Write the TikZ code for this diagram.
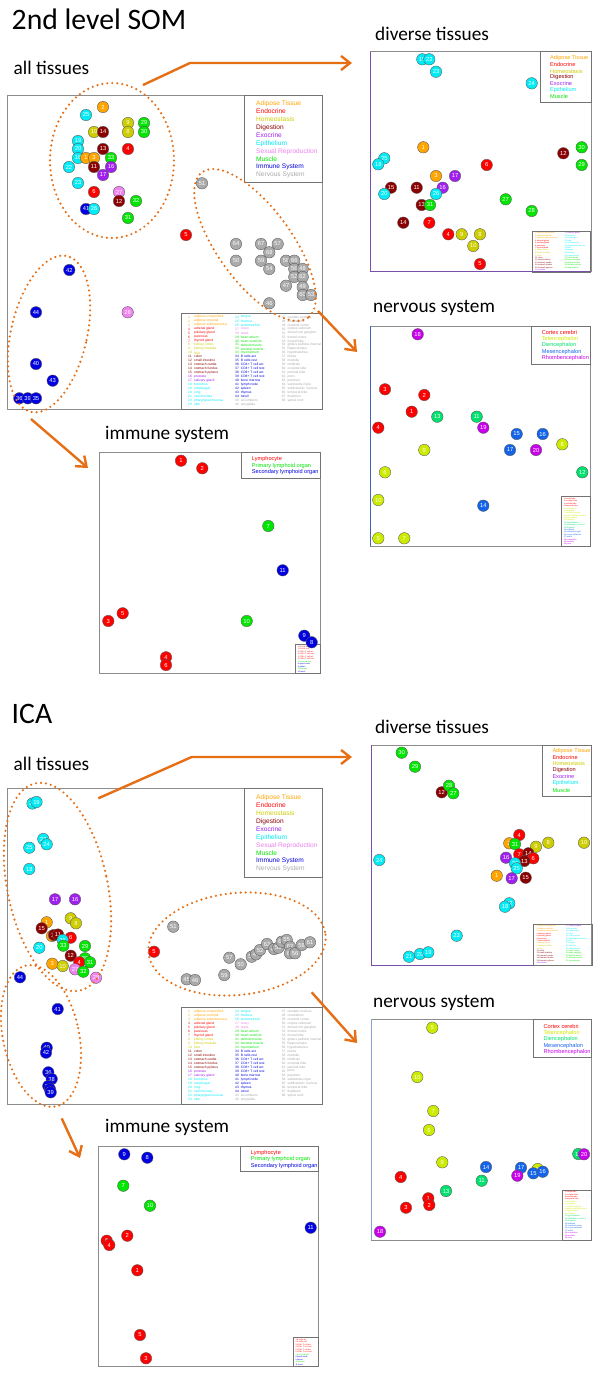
\documentclass[tikz,border=0pt]{standalone}
\usepackage{fontspec}
\usetikzlibrary{arrows.meta}
\newfontfamily\calf{Carlito}
\newfontfamily\arf{Liberation Sans}
\definecolor{cAd}{RGB}{255,165,0}
\definecolor{cEn}{RGB}{255,0,0}
\definecolor{cHo}{RGB}{205,205,0}
\definecolor{cDi}{RGB}{139,0,0}
\definecolor{cEx}{RGB}{160,32,240}
\definecolor{cEp}{RGB}{0,235,245}
\definecolor{cSe}{RGB}{238,130,238}
\definecolor{cMu}{RGB}{0,230,0}
\definecolor{cIm}{RGB}{0,0,225}
\definecolor{cNe}{RGB}{170,170,170}
\definecolor{nTe}{RGB}{205,235,0}
\definecolor{nDi}{RGB}{0,225,110}
\definecolor{nMe}{RGB}{20,100,235}
\definecolor{nRh}{RGB}{200,0,235}
\definecolor{cOr}{RGB}{230,110,20}
\definecolor{edP}{RGB}{120,80,170}
\definecolor{edB}{RGB}{60,100,190}
\tikzset{
 pt/.style={circle,draw=black!65,line width=0.35pt,minimum size=11.5pt,inner sep=0pt,text=white,font=\arf\fontsize{5.8}{6}\selectfont},
 frame/.style={draw=black!45,line width=0.9pt},
 lgbox/.style={draw=black!55,line width=0.6pt},
 lg/.style={anchor=west,inner sep=0pt,font=\arf\fontsize{6.6}{7}\selectfont},
 lgs/.style={anchor=west,inner sep=0pt,font=\arf\fontsize{5.6}{6}\selectfont},
 tinyl/.style={anchor=west,inner sep=0pt,font=\arf\fontsize{3.3}{3.5}\selectfont},
 micro/.style={anchor=west,inner sep=0pt,font=\arf\fontsize{2}{2}\selectfont},
 ttl/.style={anchor=base west,inner sep=0pt,font=\calf\fontsize{29.7}{30}\selectfont},
 sub/.style={anchor=base west,inner sep=0pt,font=\calf\fontsize{19.3}{20}\selectfont},
 oarrow/.style={draw=cOr,line width=2.4pt,-{Straight Barb[length=9pt,width=14pt]}},
 oell/.style={draw=cOr,line width=2.4pt,line cap=round,dash pattern=on 0pt off 5pt},
}
% top-right legend, 10 entries
\newcommand\lgten[4]{%
 \foreach \t/\c [count=\k from 0] in {Adipose Tissue/cAd,Endocrine/cEn,Homeostasis/cHo,Digestion/cDi,Exocrine/cEx,Epithelium/cEp,Sexual Reproduction/cSe,Muscle/cMu,Immune System/cIm,Nervous System/cNe}
 \node[lg,text=\c] (#1\k) at (#2,{#3+#4*\k}) {\t};}
\newcommand\lgseven[4]{%
 \foreach \t/\c [count=\k from 0] in {Adipose Tissue/cAd,Endocrine/cEn,Homeostasis/cHo,Digestion/cDi,Exocrine/cEx,Epithelium/cEp,Muscle/cMu}
 \node[lgs,text=\c] (#1\k) at (#2,{#3+#4*\k}) {\t};}
\newcommand\lgnerv[4]{%
 \foreach \t/\c [count=\k from 0] in {Cortex cerebri/cEn,Telencephalon/nTe,Diencephalon/nDi,Mesencephalon/nMe,Rhombencephalon/nRh}
 \node[lgs,text=\c] (#1\k) at (#2,{#3+#4*\k}) {\t};}
\newcommand\lgimm[4]{%
 \foreach \t/\c [count=\k from 0] in {Lymphocyte/cEn,Primary lymphoid organ/cMu,Secondary lymphoid organ/cIm}
 \node[lgs,text=\c] (#1\k) at (#2,{#3+#4*\k}) {\t};}
% big legend
\newcommand\bigleg[3]{%
\begin{scope}[shift={(#2,#3)}]
\draw[lgbox] (0,0) rectangle (141,96.3);
\foreach \n/\t/\c [count=\k from 0] in {1/adipose unspecified/cAd,2/adipose omental/cAd,3/adipose subcutaneous/cAd,4/adrenal gland/cEn,5/pituitary gland/cEn,6/pancreas/cEn,7/thyroid gland/cEn,8/kidney cortex/cHo,9/kidney medulla/cHo,10/liver/cHo,11/colon/cDi,12/small intestine/cDi,13/stomach cardia/cDi,14/stomach fundus/cDi,15/stomach pylorus/cDi,16/prostate/cEx,17/salivary gland/cEx,18/bronchus/cEp,19/esophagus/cEp,20/lung/cEp,21/oral mucosa/cEp,22/pharyngeal mucosa/cEp,23/skin/cEp}{
 \node[tinyl,text=\c] (#1a\k) at (6.3,{4+3.98*\k}) {\n};
 \node[tinyl,text=\c] (#1b\k) at (12.3,{4+3.98*\k}) {\t};}
\foreach \n/\t/\c [count=\k from 0] in {24/tongue/cEp,25/trachea/cEp,26/endometrium/cEp,27/ovary/cSe,28/testis/cSe,29/heart atrium/cMu,30/heart ventricle/cMu,31/deltoid muscle/cMu,32/skeletal muscle/cMu,33/myometrium/cMu,34/B cells act/cIm,35/B cells rest/cIm,36/CD4+ T cell act/cIm,37/CD4+ T cell rest/cIm,38/CD8+ T cell act/cIm,39/CD8+ T cell rest/cIm,40/bone marrow/cIm,41/lymph node/cIm,42/spleen/cIm,43/thymus/cIm,44/tonsil/cIm,45/accumbens/cNe,46/amygdala/cNe}{
 \node[tinyl,text=\c] (#1c\k) at (53.3,{4+3.98*\k}) {\n};
 \node[tinyl,text=\c] (#1d\k) at (59,{4+3.98*\k}) {\t};}
\foreach \n/\t [count=\k from 0] in {47/caudate nucleus,48/cerebellum,49/cerebral cortex,50/corpus callosum,51/dorsal root ganglion,52/frontal cortex,53/frontal lobe,54/globus pallidus internal,55/hippocampus,56/hypothalamus,57/insula,58/medulla,59/midbrain,60/occipital lobe,61/parietal lobe,62/pons,63/putamen,64/substantia nigra,65/subthalamic nucleus,66/temporal lobe,67/thalamus,68/spinal cord}{
 \node[tinyl,text=cNe] (#1e\k) at (100,{4+3.98*\k}) {\n};
 \node[tinyl,text=cNe] (#1f\k) at (105.6,{4+3.98*\k}) {\t};}
\end{scope}}
% small legends
\newcommand\divleg[3]{%
\begin{scope}[shift={(#2,#3)}]
\draw[lgbox] (0,0) rectangle (58.5,41);
\foreach \t/\c [count=\k from 0] in {1 adipose unspecified/cAd,2 adipose omental/cAd,3 adipose subcutaneous/cAd,4 adrenal gland/cEn,5 pituitary gland/cEn,6 pancreas/cEn,7 thyroid gland/cEn,8 kidney cortex/cHo,9 kidney medulla/cHo,10 liver/cHo,11 colon/cDi,12 small intestine/cDi,13 stomach cardia/cDi,14 stomach fundus/cDi,15 stomach pylorus/cDi,16 prostate/cEx}
 \node[micro,text=\c] (#1a\k) at (3,{2.3+2.45*\k}) {\t};
\foreach \t/\c [count=\k from 0] in {17 salivary gland/cEx,18 bronchus/cEp,19 esophagus/cEp,20 lung/cEp,21 oral mucosa/cEp,22 pharyngeal mucosa/cEp,23 skin/cEp,24 tongue/cEp,25 trachea/cEp,26 endometrium/cEp,27 heart atrium/cMu,28 heart ventricle/cMu,29 deltoid muscle/cMu,30 skeletal muscle/cMu,31 myometrium/cMu}
 \node[micro,text=\c] (#1b\k) at (32.5,{2.3+2.45*\k}) {\t};
\end{scope}}
\newcommand\nerleg[3]{%
\begin{scope}[shift={(#2,#3)}]
\draw[lgbox] (0,0) rectangle (29,50);
\foreach \t/\c [count=\k from 0] in {1 frontal lobe/cEn,2 occipital lobe/cEn,3 parietal lobe/cEn,4 temporal lobe/cEn,5 accumbens/nTe,6 amygdala/nTe,7 caudate nucleus/nTe,8 globus pallidus internal/nTe,9 hippocampus/nTe,10 putamen/nTe,11 hypothalamus/nDi,12 subthalamic nucleus/nDi,13 thalamus/nDi,14 midbrain/nMe,15 substantia nigra/nMe,16 corpus callosum/nMe,17 insula/nMe,18 cerebellum/nRh,19 medulla/nRh,20 pons/nRh}
 \node[micro,text=\c] (#1a\k) at (2,{2.2+2.4*\k}) {\t};
\end{scope}}
\newcommand\immleg[3]{%
\begin{scope}[shift={(#2,#3)}]
\draw[lgbox] (0,0) rectangle (25,29);
\foreach \t/\c [count=\k from 0] in {1 B cells act/cEn,2 B cells rest/cEn,3 CD4+ T cell act/cEn,4 CD4+ T cell rest/cEn,5 CD8+ T cell act/cEn,6 CD8+ T cell rest/cEn,7 bone marrow/cMu,8 lymph node/cIm,9 spleen/cIm,10 thymus/cMu,11 tonsil/cIm}
 \node[micro,text=\c] (#1a\k) at (2,{2.2+2.5*\k}) {\t};
\end{scope}}
\begin{document}
\begin{tikzpicture}[x=1pt,y=-1pt]
\useasboundingbox (0,0) rectangle (600,1386);
\fill[white] (0,0) rectangle (600,1386);
% ---------- titles
\node[ttl] (tSOM) at (11.5,30) {2nd level SOM};
\node[sub] (tSa) at (13.5,75) {all tissues};
\node[sub] (tSd) at (375,40.7) {diverse tissues};
\node[sub] (tSn) at (373,312) {nervous system};
\node[sub] (tSi) at (105,439) {immune system};
\node[ttl] (tICA) at (11.5,723) {ICA};
\node[sub] (tIa) at (13.5,770) {all tissues};
\node[sub] (tId) at (375,733.7) {diverse tissues};
\node[sub] (tIn) at (373,1007) {nervous system};
\node[sub] (tIi) at (105,1132) {immune system};
% ---------- frames
\draw[frame] (7.3,95) rectangle (322.7,409.3);
\draw[lgbox] (244.3,95) rectangle (322.7,182.7);
\draw[frame] (370.5,51.7) rectangle (591,271.7);
\draw[edP,line width=0.9pt] (370.5,51.7) -- (370.5,271.7) -- (591,271.7);
\draw[lgbox] (540.7,51.7) rectangle (591,102.7);
\draw[frame] (370,326) rectangle (590.7,546);
\draw[edB,line width=0.9pt] (370,326) -- (370,546);
\draw[lgbox] (531.7,326) rectangle (590.7,364);
\draw[frame] (99,452.3) rectangle (320.7,673.3);
\draw[lgbox] (241.7,452.3) rectangle (320.7,478.3);
\draw[frame] (7.3,788.3) rectangle (322.7,1104);
\draw[lgbox] (244.3,788.3) rectangle (322.7,877.3);
\draw[frame] (371.7,745) rectangle (591.7,965);
\draw[edP,line width=0.9pt] (371.7,745) -- (371.7,965) -- (591.7,965);
\draw[lgbox] (542.3,745) rectangle (591.7,796);
\draw[frame] (371.7,1019.3) rectangle (591.7,1240);
\draw[edB!60,line width=0.9pt] (371.7,1019.3) -- (371.7,1240);
\draw[lgbox] (533.3,1019.3) rectangle (591.7,1057.7);
\draw[frame] (98.3,1146.7) rectangle (318.3,1366);
\draw[lgbox] (240.7,1146.7) rectangle (318.3,1171.7);
% ---------- legends
\lgten{sL}{256}{103.3}{8}
\lgten{iL}{256}{797.3}{8}
\lgseven{sdL}{550}{58.3}{6.4}
\lgseven{idL}{552.3}{750.7}{6.55}
\lgnerv{snL}{541.7}{332.7}{6.4}
\lgnerv{inL}{543.3}{1026.7}{6.35}
\lgimm{siL}{251.7}{459.3}{6.5}
\lgimm{iiL}{250.7}{1152.7}{6.5}
\bigleg{sB}{181.7}{313}
\bigleg{iB}{181.7}{1007.7}
\divleg{sdT}{532}{231}
\divleg{idT}{533.5}{924}
\nerleg{snT}{561.7}{496.5}
\nerleg{inT}{562.7}{1190}
\immleg{siT}{295.7}{644.3}
\immleg{iiT}{293.3}{1337.3}
% ---------- SOM all tissues nodes
\foreach \c/\x/\y/\l in {cAd/103/107/2,cEp/86/115/25,cHo/128/123/9,cMu/144/123/29,cHo/94/132/10,cDi/103/132/14,cHo/128/132/8,cMu/144/132/30,cEp/78/141/19,cEp/78/149/20,cDi/103/149/13,cEn/128/149/4,cEp/78/158/18,cAd/86/158/1,cAd/94/158/3,cMu/111/158/33,cEp/69/167/22,cDi/94/167/11,cEx/111/167/16,cEx/103/175/17,cEp/78/183/23,cEn/94/192/6,cSe/119/192/27,cDi/119/201/12,cMu/136/201/32,cIm/86/209/41,cEp/94/209/26,cMu/128/218/31,cEn/186/235/5,cIm/69.3/270/42,cIm/36/312.3/44,cSe/127.7/312.3/28,cIm/36/364/40,cIm/52.7/380.7/43,cIm/19.3/398.3/36,cIm/27.7/398.3/39,cIm/36/398.3/35}
 \node[pt,fill=\c] (sa\l) at (\x,\y) {\l};
\foreach \x/\y/\l in {202/183.3/51,236/244/64,261/244/67,277.7/244/57,269.3/252.3/68,236/260.7/50,261/260.7/59,286/260.7/58,294.3/260.7/66,269.3/269/54,294.3/269/56,302.7/269/48,294.3/277/52,302.7/277/62,286/285.7/47,302.7/287/49,302.7/295/60,311/295/53,269.3/303.3/46}
 \node[pt,fill=cNe] (sa\l) at (\x,\y) {\l};
% ---------- SOM diverse
\foreach \c/\x/\y/\l in {cEp/422.3/59.3/19,cEp/429.3/59.3/22,cEp/436/71.7/23,cEp/531.7/83.3/24,cAd/423.3/147.3/1,cEp/384.3/158.3/25,cEp/378.3/164.3/18,cEn/486.7/165/6,cDi/563.3/153.3/12,cMu/581.7/147.3/30,cMu/581.7/165/29,cAd/436/176/3,cEx/455/176/17,cDi/391/187.7/15,cDi/416.7/187.7/11,cEx/442.7/187.7/16,cEp/384.3/194/20,cEp/436/194/26,cMu/505.7/199.3/27,cDi/421.7/205/13,cMu/430/205/31,cMu/531.7/211/28,cDi/403.3/222.7/14,cEn/429.3/222.7/7,cEn/448.3/234.3/4,cHo/461.7/234.3/9,cHo/480/234.3/8,cHo/473.3/246/10,cEn/480/264/5}
 \node[pt,fill=\c] (sd\l) at (\x,\y) {\l};
% ---------- SOM nervous
\foreach \c/\x/\y/\l in {nRh/417.7/334.3/18,cEn/385/389.3/3,cEn/424.3/395/2,cEn/411.7/411.7/1,nDi/437.3/416.7/13,nDi/476.7/416.7/11,cEn/378.3/427.7/4,nRh/483.3/427.7/19,nMe/516.7/434/15,nMe/542.7/434/16,nTe/562.3/444.3/8,nTe/424.3/450/9,nMe/510/450/17,nRh/536/450/20,nTe/385/472.3/6,nDi/582.3/472.3/12,nTe/378.3/500/10,nMe/483.3/505.7/14,nTe/378.3/538.3/5,nTe/404.3/538.3/7}
 \node[pt,fill=\c] (sn\l) at (\x,\y) {\l};
% ---------- SOM immune
\foreach \c/\x/\y/\l in {cEn/181/460.7/1,cEn/202.3/468.3/2,cMu/268.3/526/7,cIm/282.7/570.3/11,cEn/122.7/613.3/5,cEn/108.3/621/3,cMu/246.7/621/10,cIm/304.3/635.7/9,cIm/311.7/642.3/8,cEn/166/657.3/4,cEn/166/665/6}
 \node[pt,fill=\c] (si\l) at (\x,\y) {\l};
% ---------- ICA all tissues
\foreach \c/\x/\y/\l in {cEp/32.5/803.5/21,cEp/36.5/802/19,cEp/43.3/839/23,cEp/46.7/844.3/24,cEp/29.3/847.7/25,cEp/29.3/869/18,cEx/55/899.3/17,cEx/75/899.3/16,cHo/70.7/918.3/9,cHo/76/923.3/8,cAd/46.7/922.3/1,cDi/41.7/928.3/15,cAd/52/936/2,cDi/54/935/13,cDi/58/934.5/11,cEn/70.7/937.7/6,cEp/62.7/940/26,cMu/63.3/945.7/33,cEp/39.3/947.7/20,cMu/85/946/29,cDi/70.7/955.7/12,cMu/85/958.3/30,cEn/79.3/962.3/4,cMu/90/962.3/31,cAd/52.3/963.7/3,cHo/62.7/966/10,cSe/75/969.3/27,cMu/83.3/971.7/32,cSe/96/977.7/28,cEn/154/951.7/5,cIm/20/977.3/44,cIm/57.7/1009/41,cIm/46.7/1047.7/40,cIm/46/1052.7/42,cIm/48.3/1072.3/36,cIm/51.7/1079/38,cIm/48.3/1086/34,cIm/50/1089.3/35,cIm/50.7/1092.3/39}
 \node[pt,fill=\c] (ia\l) at (\x,\y) {\l};
\foreach \x/\y/\l in {173.3/926.7/51,186.7/979.3/45,195/980/46,224.3/975/59,229.3/957.7/57,240.7/964.3/50,251.7/956.7/54,256/954.3/47,260/950/52,267/944/63,274/949/49,278.3/947.7/53,281.7/941.7/64,286.7/940/55,290/946.7/62,290/953.3/65,295/953.3/56,301.7/945/58,310/942.3/61}
 \node[pt,fill=cNe] (ia\l) at (\x,\y) {\l};
% ---------- ICA diverse
\foreach \c/\x/\y/\l in {cMu/401.7/752.7/30,cMu/415/766.7/29,cDi/441.7/792.3/12,cMu/449/785.7/28,cMu/453.3/793.3/27,cEn/519.3/835/4,cAd/509.3/843.3/2,cMu/515/844/31,cHo/536/846.7/9,cHo/548.3/842.7/8,cHo/584/842.7/10,cEx/506/857.7/16,cEn/519.3/854.3/7,cDi/528.3/853.3/14,cEn/533.3/858.3/6,cDi/524.3/861/13,cEp/515/863.3/26,cEp/516.7/868.3/25,cAd/496.7/875.7/1,cEx/511.7/878.3/17,cDi/525.7/877.7/15,cEp/509.3/903.3/22,cEp/505/906.7/18,cEp/379.3/860/24,cEp/456.7/935.7/23,cEp/409/956.7/21,cEp/420/954/20,cEp/428.3/952.3/19}
 \node[pt,fill=\c] (id\l) at (\x,\y) {\l};
% ---------- ICA nervous
\foreach \c/\x/\y/\l in {nTe/432.3/1027.7/5,nTe/417.3/1077/10,nTe/433.3/1111/7,nTe/429/1130/6,nDi/578.3/1154/12,nRh/584/1154.3/20,nTe/442.3/1162.3/9,nMe/486/1167/14,nMe/521/1167.7/17,nTe/537.7/1169/8,nMe/533.3/1173.3/15,nMe/542.7/1171.7/16,nRh/517.3/1175.7/19,cEn/400.7/1177/4,nDi/481.7/1180.7/11,nDi/446/1191/13,cEn/428.3/1198.3/1,cEn/429.3/1205/2,cEn/406/1207.7/3,nRh/380/1231.7/18}
 \node[pt,fill=\c] (iN\l) at (\x,\y) {\l};
% ---------- ICA immune
\foreach \c/\x/\y/\l in {cIm/124.3/1154.3/9,cIm/147.3/1157.7/8,cMu/123.3/1185.7/7,cMu/150/1205.7/10,cIm/310.7/1227.7/11,cEn/127.3/1235.7/2,cEn/106.7/1240.7/6,cEn/109.3/1245/4,cEn/137.3/1270.3/1,cEn/140/1335/5,cEn/146/1358.3/3}
 \node[pt,fill=\c] (ii\l) at (\x,\y) {\l};
% ---------- dotted ellipses
\draw[oell] (112,160.5) ellipse [x radius=62, y radius=77.5];
\draw[oell, rotate around={-54:(255,245)}] (255,245) ellipse [x radius=90, y radius=37];
\draw[oell, rotate around={-13:(49,334)}] (49,334) ellipse [x radius=38, y radius=80];
\draw[oell, rotate around={12:(57.5,887)}] (57.5,887) ellipse [x radius=50, y radius=106];
\draw[oell, rotate around={6:(237,944)}] (237,944) ellipse [x radius=89, y radius=51];
\draw[oell, rotate around={12:(41,1036)}] (41,1036) ellipse [x radius=38, y radius=72];
% ---------- arrows
\coordinate (sA1a) at (143,85); \coordinate (sA1b) at (190,63); \coordinate (sA1c) at (352,63);
\coordinate (sA2a) at (318,311); \coordinate (sA2b) at (357,352);
\coordinate (sA3a) at (31,419); \coordinate (sA3b) at (88,468);
\coordinate (iA1a) at (98.3,798.3); \coordinate (iA1b) at (191.7,757); \coordinate (iA1c) at (352,757);
\coordinate (iA2a) at (311.7,992.3); \coordinate (iA2b) at (357,1043);
\coordinate (iA3a) at (61.7,1118.3); \coordinate (iA3b) at (80,1158);
\draw[oarrow] (sA1a) -- (sA1b) -- (sA1c);
\draw[oarrow] (sA2a) -- (sA2b);
\draw[oarrow] (sA3a) -- (sA3b);
\draw[oarrow] (iA1a) -- (iA1b) -- (iA1c);
\draw[oarrow] (iA2a) -- (iA2b);
\draw[oarrow] (iA3a) -- (iA3b);
\end{tikzpicture}
\end{document}
